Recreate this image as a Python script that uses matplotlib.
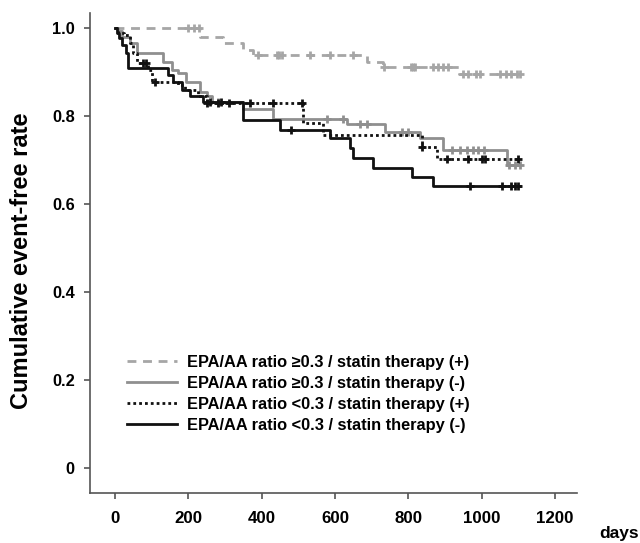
import numpy as np
import matplotlib
matplotlib.use("Agg")
import matplotlib.pyplot as plt

plt.rcParams['font.family'] = ['Liberation Sans', 'DejaVu Sans']
plt.rcParams['font.weight'] = 'bold'

# step curves: time of each step (days) and survival after the step
t_hi_statin = [0, 232, 295, 350, 377, 686, 731, 938, 1105]
s_hi_statin = [1.0, 0.981, 0.966, 0.951, 0.940, 0.924, 0.913, 0.896, 0.896]
c_hi_statin = [200, 215, 228, 390, 441, 448, 455, 532, 587, 650, 735, 806, 812,
               818, 868, 880, 895, 908, 950, 962, 985, 995, 1050, 1065, 1080, 1095, 1105]

t_hi_nostatin = [0, 8, 20, 40, 59, 131, 155, 173, 195, 232, 250, 265, 350, 432,
                 632, 736, 832, 895, 1068, 1105]
s_hi_nostatin = [1.0, 0.993, 0.98, 0.966, 0.944, 0.924, 0.905, 0.898, 0.879, 0.856,
                 0.845, 0.833, 0.816, 0.793, 0.782, 0.765, 0.751, 0.723, 0.689, 0.689]
c_hi_nostatin = [280, 577, 623, 668, 686, 782, 800, 920, 940, 960, 975, 990, 1005,
                 1075, 1090, 1105]

t_lo_statin = [0, 8, 25, 40, 50, 60, 91, 100, 172, 191, 227, 250, 513, 568, 836, 877, 1105]
s_lo_statin = [1.0, 0.99, 0.985, 0.966, 0.944, 0.921, 0.905, 0.879, 0.871, 0.86,
               0.845, 0.831, 0.784, 0.757, 0.731, 0.703, 0.703]
c_lo_statin = [76, 86, 110, 250, 280, 310, 368, 432, 510, 836, 905, 962, 1000, 1010, 1100]

t_lo_nostatin = [0, 5, 10, 20, 30, 36, 145, 159, 182, 204, 241, 350, 450, 586, 641,
                 650, 704, 809, 868, 1105]
s_lo_nostatin = [1.0, 0.99, 0.978, 0.962, 0.944, 0.909, 0.894, 0.879, 0.86, 0.845,
                 0.833, 0.792, 0.769, 0.750, 0.727, 0.704, 0.682, 0.662, 0.641, 0.641]
c_lo_nostatin = [260, 290, 480, 968, 1055, 1080, 1090, 1100]

labels = ['EPA/AA ratio \u22650.3 / statin therapy (+)',
          'EPA/AA ratio \u22650.3 / statin therapy (-)',
          'EPA/AA ratio <0.3 / statin therapy (+)',
          'EPA/AA ratio <0.3 / statin therapy (-)']

fig = plt.figure(figsize=(6.4, 5.43), dpi=100)
ax = fig.add_axes([0.1406, 0.0926, 0.761, 0.8834])


def surv_at(t, s, x):
    idx = np.searchsorted(t, x, side='right') - 1
    return np.array(s)[idx]


curves = [
    (t_hi_statin, s_hi_statin, c_hi_statin, '#a6a6a6', (0, (3.2, 2.4))),
    (t_hi_nostatin, s_hi_nostatin, c_hi_nostatin, '#8f8f8f', '-'),
    (t_lo_statin, s_lo_statin, c_lo_statin, '#111111', (0, (1, 1.1))),
    (t_lo_nostatin, s_lo_nostatin, c_lo_nostatin, '#111111', '-'),
]

for (t, s, c, col, ls), lab in zip(curves, labels):
    ax.step(t, s, where='post', color=col, ls=ls, lw=2.0, label=lab)
    ax.plot(c, surv_at(t, s, c), ls='none', marker='+', ms=6, mew=2, color=col)

ax.set_xlim(-68, 1260)
ax.set_ylim(-0.057, 1.035)
ax.set_xticks([0, 200, 400, 600, 800, 1000, 1200])
ax.set_yticks([0, 0.2, 0.4, 0.6, 0.8, 1.0])
ax.set_yticklabels(['0', '0.2', '0.4', '0.6', '0.8', '1.0'])

for sp in ['top', 'right']:
    ax.spines[sp].set_visible(False)
for sp in ['left', 'bottom']:
    ax.spines[sp].set_color('#555555')
    ax.spines[sp].set_linewidth(1.2)
ax.tick_params(axis='x', length=4, width=1.2, color='#555555', pad=9, labelsize=12.2)
ax.tick_params(axis='y', length=4, width=1.2, color='#555555', pad=7, labelsize=11.8)

leg = ax.legend(loc='upper left', bbox_to_anchor=(0.076, 0.287), frameon=False,
                fontsize=11.8, handlelength=3.05, handletextpad=0.6, labelspacing=0.36,
                borderpad=0, borderaxespad=0)

fig.text(0.034, 0.52, 'Cumulative event-free rate', rotation=90, ha='center',
         va='center', fontsize=17, fontweight='bold')
fig.text(0.999, 0.004, 'days', ha='right', va='bottom', fontsize=12.5, fontweight='bold')

fig.savefig('out.png', dpi=100)
